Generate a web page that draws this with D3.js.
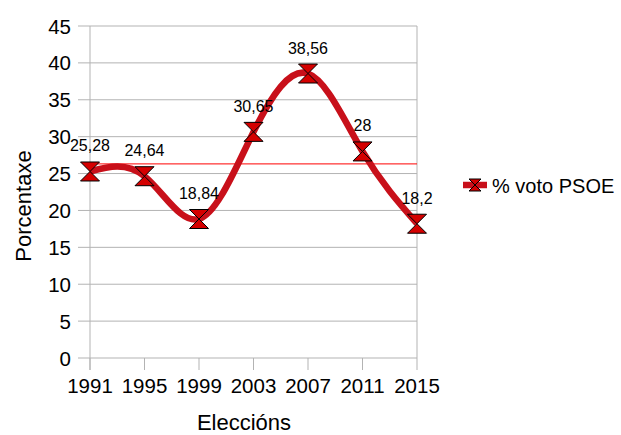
<!DOCTYPE html>
<html>
<head>
<meta charset="utf-8">
<script src="https://cdn.jsdelivr.net/npm/d3@7"></script>
<style>
  body { margin: 0; background: #fff; }
  text { font-family: "Liberation Sans", Arial, sans-serif; fill: #000; }
</style>
</head>
<body>
<div id="chart"></div>
<script>
const years = ["1991", "1995", "1999", "2003", "2007", "2011", "2015"];
const votes = [25.28, 24.64, 18.84, 30.65, 38.56, 28, 18.2];
const labels = ["25,28", "24,64", "18,84", "30,65", "38,56", "28", "18,2"];
const yTicks = [0, 5, 10, 15, 20, 25, 30, 35, 40, 45];

const width = 621, height = 435;
const plot = {left: 90, right: 417, top: 26, bottom: 358};

const svg = d3.select("#chart").append("svg")
    .attr("width", width)
    .attr("height", height);

const x = d3.scalePoint().domain(years).range([plot.left, plot.right]);
const y = d3.scaleLinear().domain([0, 45]).range([plot.bottom, plot.top]);

// gridlines + y ticks
svg.append("g").selectAll("line")
    .data(yTicks)
    .join("line")
    .attr("x1", plot.left - 12)
    .attr("x2", plot.right)
    .attr("y1", d => y(d))
    .attr("y2", d => y(d))
    .attr("stroke", "#b3b3b3")
    .attr("stroke-width", 1);

svg.append("g").selectAll("text")
    .data(yTicks)
    .join("text")
    .attr("x", plot.left - 19)
    .attr("y", d => y(d) + 7.5)
    .attr("text-anchor", "end")
    .style("font-size", "20.5px")
    .text(d => d);

// left axis & right border
svg.append("line")
    .attr("x1", plot.left).attr("x2", plot.left)
    .attr("y1", plot.top).attr("y2", plot.bottom + 12)
    .attr("stroke", "#b3b3b3");
svg.append("line")
    .attr("x1", plot.right).attr("x2", plot.right)
    .attr("y1", plot.top).attr("y2", plot.bottom)
    .attr("stroke", "#b3b3b3");

// x ticks
svg.append("g").selectAll("line")
    .data(years)
    .join("line")
    .attr("x1", d => x(d)).attr("x2", d => x(d))
    .attr("y1", plot.bottom).attr("y2", plot.bottom + 12)
    .attr("stroke", "#b3b3b3");

svg.append("g").selectAll("text")
    .data(years)
    .join("text")
    .attr("x", d => x(d))
    .attr("y", 393)
    .attr("text-anchor", "middle")
    .style("font-size", "20.5px")
    .text(d => d);

// mean line
const mean = d3.mean(votes);
svg.append("line")
    .attr("x1", plot.left).attr("x2", plot.right)
    .attr("y1", y(mean)).attr("y2", y(mean))
    .attr("stroke", "#ff0000")
    .attr("stroke-width", 1);

// curve
const line = d3.line()
    .x((d, i) => x(years[i]))
    .y(d => y(d))
    .curve(d3.curveNatural);

svg.append("path")
    .datum(votes)
    .attr("d", line)
    .attr("fill", "none")
    .attr("stroke", "#c8101a")
    .attr("stroke-width", 6.5);

// hourglass markers
function hourglass(w, h) {
  const a = w / 2, b = h / 2;
  return `M${-a},${-b}L${a},${-b}L0,0L${a},${b}L${-a},${b}L0,0Z`;
}

svg.append("g").selectAll("path")
    .data(votes)
    .join("path")
    .attr("transform", (d, i) => `translate(${x(years[i])},${y(d)})`)
    .attr("d", hourglass(19, 19))
    .attr("fill", "#d40000")
    .attr("stroke", "#000")
    .attr("stroke-width", 1);

// data labels
svg.append("g").selectAll("text")
    .data(votes)
    .join("text")
    .attr("x", (d, i) => x(years[i]))
    .attr("y", d => y(d) - 20)
    .attr("text-anchor", "middle")
    .style("font-size", "16px")
    .text((d, i) => labels[i]);

// axis titles
svg.append("text")
    .attr("transform", "translate(31,206) rotate(-90)")
    .attr("text-anchor", "middle")
    .style("font-size", "22px")
    .text("Porcentaxe");

svg.append("text")
    .attr("x", 244)
    .attr("y", 430)
    .attr("text-anchor", "middle")
    .style("font-size", "22px")
    .text("Eleccións");

// legend
const lg = svg.append("g").attr("transform", "translate(475,185)");
lg.append("line")
    .attr("x1", -12).attr("x2", 12)
    .attr("stroke", "#c8101a")
    .attr("stroke-width", 6.5);
lg.append("path")
    .attr("d", hourglass(12, 12))
    .attr("fill", "#d40000")
    .attr("stroke", "#000")
    .attr("stroke-width", 1);
lg.append("text")
    .attr("x", 17)
    .attr("y", 8)
    .style("font-size", "20px")
    .text("% voto PSOE");
</script>
</body>
</html>
